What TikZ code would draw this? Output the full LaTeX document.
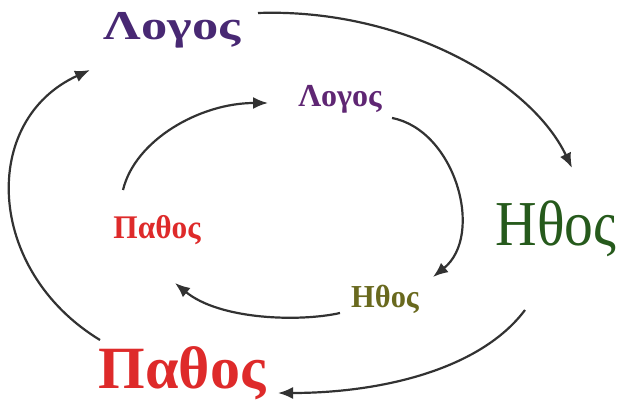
\documentclass[tikz,border=0pt]{standalone}
\usepackage{fontspec}
\usepackage{graphicx}
\setmainfont{Liberation Serif}
\usetikzlibrary{arrows.meta}
\definecolor{logoscol}{RGB}{72,40,115}
\definecolor{logossm}{RGB}{95,38,115}
\definecolor{ethoscol}{RGB}{38,90,28}
\definecolor{ethossm}{RGB}{105,105,30}
\definecolor{pathoscol}{RGB}{222,42,42}
\definecolor{arrowcol}{RGB}{50,50,50}
\tikzset{
  word/.style={anchor=base, inner sep=0pt},
  cyc/.style={draw=arrowcol, line width=2.2pt, -{Latex[length=15pt,width=12pt]}},
}
\begin{document}
\begin{tikzpicture}[x=1pt,y=-1pt]
\useasboundingbox (0,0) rectangle (621,401);
% words
\node[word, text=logoscol, font=\bfseries\fontsize{41}{41}\selectfont] (L1) at (172,40) {\scalebox{1.28}[1]{Λογος}};
\node[word, text=logossm, font=\bfseries\fontsize{32}{32}\selectfont] (L2) at (340,107) {Λογος};
\node[word, text=ethoscol, font=\fontsize{64}{64}\selectfont] (H1) at (556,245) {\scalebox{0.9}[1]{Ηθος}};
\node[word, text=ethossm, font=\bfseries\fontsize{32}{32}\selectfont] (H2) at (385,307) {\scalebox{0.95}[1]{Ηθος}};
\node[word, text=pathoscol, font=\bfseries\fontsize{33}{33}\selectfont] (P2) at (157,238) {\scalebox{0.95}[1]{Παθος}};
\node[word, text=pathoscol, font=\bfseries\fontsize{60}{60}\selectfont] (P1) at (182,388) {Παθος};
% connector ends
\coordinate (oLs) at (258,13);  \coordinate (oHe) at (572,168);
\coordinate (oHs) at (525,310); \coordinate (oPe) at (278,393);
\coordinate (oPs) at (100,340); \coordinate (oLe) at (90,70);
\coordinate (iPs) at (123,190); \coordinate (iLe) at (268,103);
\coordinate (iLs) at (392,118); \coordinate (iHe) at (433,277);
\coordinate (iHs) at (340,313); \coordinate (iPe) at (175,283);
% outer cycle
\draw[cyc] (oLs) .. controls (400,8) and (530,80) .. (oHe);
\draw[cyc] (oHs) .. controls (480,370) and (380,393) .. (oPe);
\draw[cyc] (oPs) .. controls (-15,270) and (-20,120) .. (oLe);
% inner cycle
\draw[cyc] (iPs) .. controls (135,140) and (200,103) .. (iLe);
\draw[cyc] (iLs) .. controls (455,130) and (485,235) .. (iHe);
\draw[cyc] (iHs) .. controls (300,322) and (220,320) .. (iPe);
\end{tikzpicture}
\end{document}
